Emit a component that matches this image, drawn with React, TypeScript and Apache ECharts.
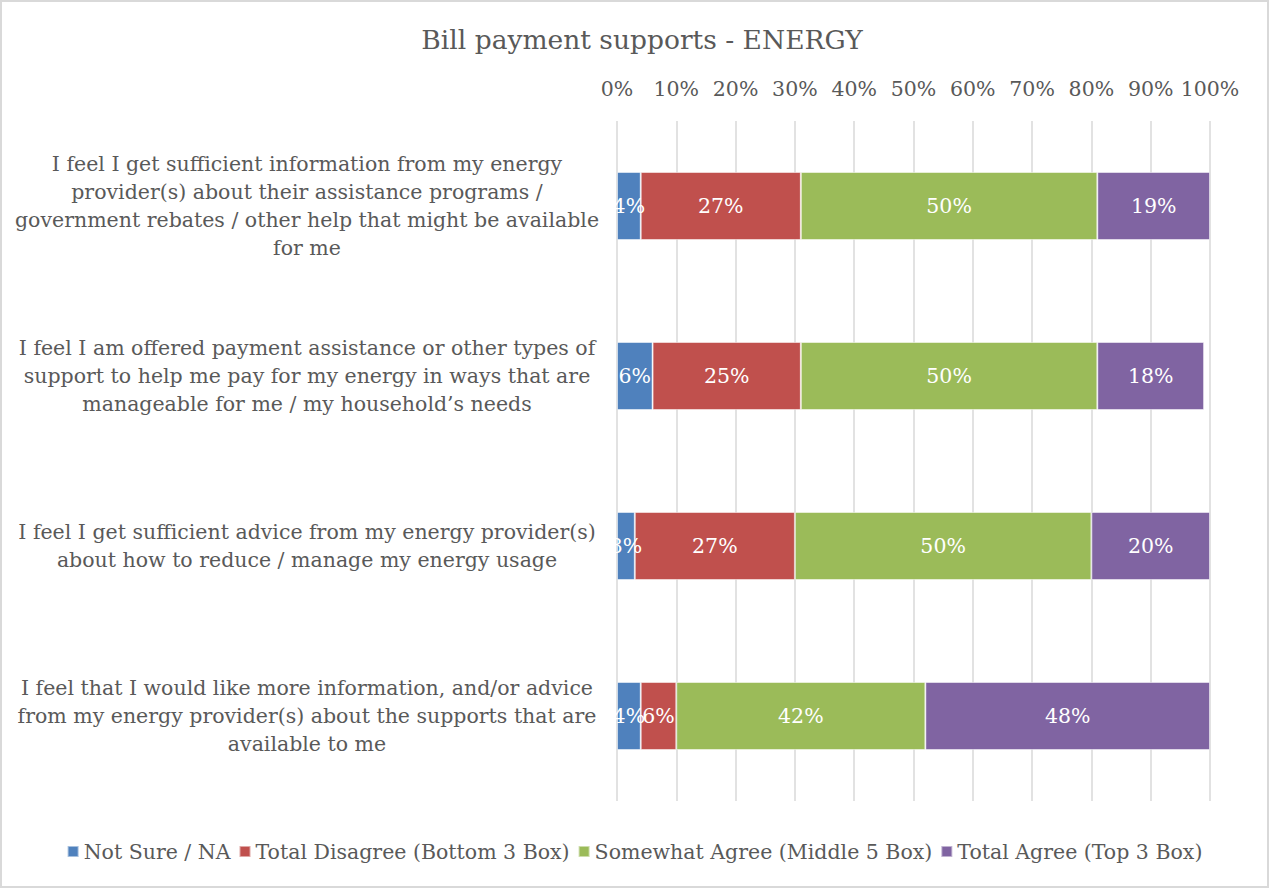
import React, { useEffect, useRef } from "react";
import * as echarts from "echarts";

const categories = [
  "I feel I get sufficient information from my energy\nprovider(s) about their assistance programs /\ngovernment rebates / other help that might be available\nfor me",
  "I feel I am offered payment assistance or other types of\nsupport to help me pay for my energy in ways that are\nmanageable for me / my household’s needs",
  "I feel I get sufficient advice from my energy provider(s)\nabout how to reduce / manage my energy usage",
  "I feel that I would like more information, and/or advice\nfrom my energy provider(s) about the supports that are\navailable to me",
];

const seriesNames = [
  "Not Sure / NA",
  "Total Disagree (Bottom 3 Box)",
  "Somewhat Agree (Middle 5 Box)",
  "Total Agree (Top 3 Box)",
];

const notSure = [4, 6, 3, 4];
const totalDisagree = [27, 25, 27, 6];
const somewhatAgree = [50, 50, 50, 42];
const totalAgree = [19, 18, 20, 48];

const colors = ["#4F81BD", "#C0504D", "#9BBB59", "#8064A2"];

const FONT = "DejaVu Serif";
const TEXT = "#595959";

export default function App() {
  const ref = useRef<HTMLDivElement>(null);
  useEffect(() => {
    document.body.style.margin = "0";
    if (!ref.current) return;
    const chart = echarts.init(ref.current, null, { renderer: "svg" });
    const values = [notSure, totalDisagree, somewhatAgree, totalAgree];
    chart.setOption({
      animation: false,
      textStyle: { fontFamily: FONT },
      title: {
        text: "Bill payment supports - ENERGY",
        left: 635,
        textAlign: "center",
        top: 19,
        textStyle: { fontFamily: FONT, fontSize: 26.5, fontWeight: "normal", color: TEXT },
      },
      legend: {
        bottom: 19,
        left: "center",
        itemWidth: 11,
        itemHeight: 11,
        itemGap: 8,
        icon: "rect",
        textStyle: { fontFamily: FONT, fontSize: 20.5, color: TEXT },
        data: seriesNames,
      },
      grid: { left: 615, right: 57, top: 119, bottom: 85, containLabel: false },
      xAxis: {
        type: "value",
        position: "top",
        min: 0,
        max: 100,
        interval: 10,
        axisLine: { show: false },
        axisTick: { show: false },
        axisLabel: {
          formatter: "{value}%",
          fontFamily: FONT,
          fontSize: 20.5,
          color: TEXT,
          margin: 22,
        },
        splitLine: { show: true, lineStyle: { color: "#d9d9d9", width: 1.5 } },
      },
      yAxis: {
        type: "category",
        inverse: true,
        data: categories,
        axisLine: { show: false },
        axisTick: { show: false },
        axisLabel: {
          align: "center",
          margin: 310,
          fontFamily: FONT,
          fontSize: 20.5,
          lineHeight: 28,
          color: TEXT,
        },
      },
      series: seriesNames.map((name, i) => ({
        name,
        type: "bar",
        stack: "total",
        barWidth: 68,
        data: values[i],
        itemStyle: { color: colors[i], borderColor: "rgba(255,255,255,0.5)", borderWidth: 1 },
        label: {
          show: true,
          position: "inside",
          formatter: "{c}%",
          color: "#ffffff",
          fontFamily: FONT,
          fontSize: 20.5,
        },
      })),
    });
    return () => chart.dispose();
  }, []);
  return (
    <div
      ref={ref}
      style={{
        width: 1269,
        height: 888,
        boxSizing: "border-box",
        border: "2px solid #d9d9d9",
        background: "#fff",
      }}
    />
  );
}
